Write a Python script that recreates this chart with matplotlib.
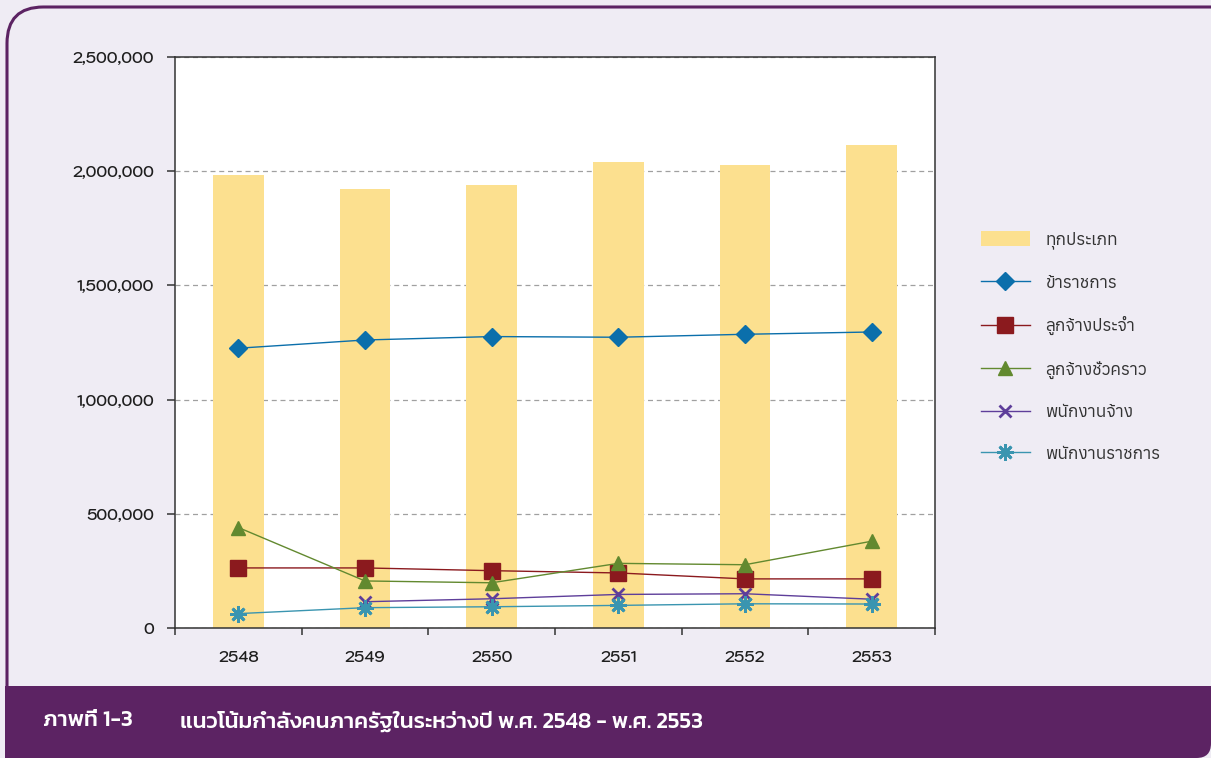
import matplotlib
matplotlib.use("Agg")
import matplotlib.pyplot as plt
from matplotlib.patches import FancyBboxPatch, Rectangle
from matplotlib.ticker import MultipleLocator, FuncFormatter, FixedLocator
import numpy as np

# ---------------- data ----------------
years = ["2548", "2549", "2550", "2551", "2552", "2553"]
total_all = [1983000, 1922000, 1940000, 2040000, 2027000, 2115000]
civil_servants = [1225000, 1261000, 1276000, 1273000, 1286000, 1296000]
perm_employees = [263000, 263000, 251000, 241000, 215000, 215000]
temp_employees = [440000, 206000, 198000, 283000, 277000, 380000]
gov_employees = [np.nan, 115000, 128000, 147000, 150000, 126000]
gov_officers = [63000, 89000, 93000, 99000, 106000, 105000]

labels = ["ทุกประเภท", "ข้าราชการ", "ลูกจ้างประจำ", "ลูกจ้างชั่วคราว", "พนักงานจ้าง", "พนักงานราชการ"]
caption_no = "ภาพที่ 1-3"
caption = "แนวโน้มกำลังคนภาครัฐในระหว่างปี พ.ศ. 2548 - พ.ศ. 2553"

# ---------------- fonts ----------------
NUM_FONT = ["Kodchasan", "Noto Sans Thai", "DejaVu Sans"]
LEG_FONT = ["Anuphan", "Noto Sans Thai", "DejaVu Sans"]
CAP_FONT = ["Kanit", "Noto Sans Thai", "DejaVu Sans"]
plt.rcParams["font.family"] = NUM_FONT
plt.rcParams["font.weight"] = "semibold"

W, H = 1211, 758
BG = "#EFECF4"
PURPLE = "#5C2363"
fig = plt.figure(figsize=(W / 100, H / 100), dpi=100)
fig.patch.set_facecolor(BG)

def fx(px):
    return px / W

def fy(py):
    return 1 - py / H

frame = FancyBboxPatch((fx(7), fy(740)), fx(1300), fy(7) - fy(740),
                       boxstyle="round,pad=0,rounding_size=0.03",
                       transform=fig.transFigure, facecolor=BG,
                       edgecolor=PURPLE, linewidth=2.2, zorder=-3,
                       mutation_aspect=W / H)
fig.patches.append(frame)
band = FancyBboxPatch((fx(5), fy(758)), fx(1206), fy(686) - fy(758),
                      boxstyle="round,pad=0,rounding_size=0.012",
                      transform=fig.transFigure, facecolor=PURPLE,
                      edgecolor="none", zorder=-2, mutation_aspect=W / H)
fig.patches.append(band)
fig.patches.append(Rectangle((fx(5), fy(740)), fx(1206), fy(686) - fy(740),
                             transform=fig.transFigure, facecolor=PURPLE, edgecolor="none", zorder=-2))
fig.patches.append(Rectangle((fx(5), fy(758)), fx(1150), fy(686) - fy(758),
                             transform=fig.transFigure, facecolor=PURPLE, edgecolor="none", zorder=-2))

fig.text(fx(43), fy(721), caption_no, color="white", fontsize=16.2, fontweight="medium",
         va="center", ha="left", family=CAP_FONT)
fig.text(fx(180), fy(721), caption, color="white", fontsize=16.2, fontweight="medium",
         va="center", ha="left", family=CAP_FONT)

ax = fig.add_axes([fx(175), fy(628), fx(935) - fx(175), fy(57) - fy(628)])
ax.set_facecolor("white")
x = np.arange(len(years))

ax.bar(x, total_all, width=0.4, color="#FCE08F", zorder=2, label=labels[0])
ax.plot(x, civil_servants, color="#0B6FAB", lw=1.0, marker="D", ms=9,
        mec="#0B6FAB", zorder=4, label=labels[1])
ax.plot(x, perm_employees, color="#8B1A1E", lw=1.0, marker="s", ms=11,
        mec="#8B1A1E", zorder=4, label=labels[2])
ax.plot(x, temp_employees, color="#62892F", lw=1.0, marker="^", ms=10,
        mec="#62892F", zorder=4, label=labels[3])
ax.plot(x, gov_employees, color="#5E3E9A", lw=1.0, marker="x", ms=9, mew=2,
        zorder=4, label=labels[4])
ax.plot(x, gov_officers, color="#3A95B0", lw=1.0, marker=(8, 2, 0), ms=12, mew=2,
        mec="#3A95B0", zorder=4, label=labels[5])

ax.set_xlim(-0.5, len(years) - 0.5)
ax.set_ylim(0, 2500000)
ax.yaxis.set_major_locator(MultipleLocator(500000))
ax.yaxis.set_major_formatter(FuncFormatter(lambda v, p: f"{v:,.0f}"))
ax.grid(axis="y", color="#A0A0A0", linestyle=(0, (4, 3)), linewidth=0.9, zorder=1)
ax.set_axisbelow(True)

ax.xaxis.set_major_locator(FixedLocator(np.arange(-0.5, len(years), 1.0)))
ax.xaxis.set_major_formatter(FuncFormatter(lambda v, p: ""))
ax.xaxis.set_minor_locator(FixedLocator(x))
ax.set_xticklabels(years, minor=True)
ax.tick_params(axis="x", which="major", direction="out", length=5, width=1.1, color="#333333")
ax.tick_params(axis="x", which="minor", length=0, pad=16, labelsize=11, labelcolor="#1E1E1E")
ax.tick_params(axis="y", direction="out", length=6, width=1.1, color="#333333",
               labelsize=11, labelcolor="#1E1E1E", pad=9)
for s in ax.spines.values():
    s.set_color("#333333")
    s.set_linewidth(1.1)

handles, labs = ax.get_legend_handles_labels()
order = [labs.index(l) for l in labels]
leg = fig.legend([handles[i] for i in order], [labs[i] for i in order],
                 loc="upper left", bbox_to_anchor=(fx(965), fy(216)), frameon=False,
                 prop={"family": LEG_FONT, "size": 12.4, "weight": "normal"},
                 handlelength=2.9, handleheight=0.93, handletextpad=0.88,
                 labelspacing=1.47, labelcolor="#333333")

fig.savefig("out.png", dpi=100, facecolor=fig.get_facecolor())
